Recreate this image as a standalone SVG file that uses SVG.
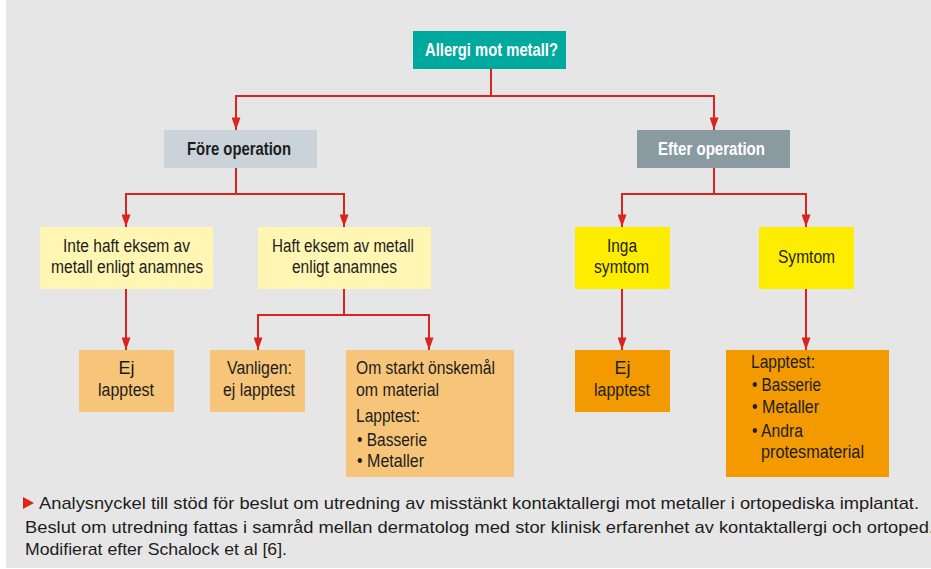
<svg xmlns="http://www.w3.org/2000/svg" width="931" height="569" viewBox="0 0 931 569">
<style>
.t{font-family:"Liberation Sans",Arial,sans-serif;font-size:18px;fill:#1d1d1b}
.b{font-weight:bold}
.w{fill:#ffffff}
.c{font-family:"Liberation Sans",Arial,sans-serif;font-size:17px;fill:#1d1d1b}
.con{fill:none;stroke:#d9251d;stroke-width:2;marker-end:url(#ah)}
</style>
<defs>
<marker id="ah" viewBox="0 0 14 10" refX="14" refY="5" markerWidth="14" markerHeight="9" markerUnits="userSpaceOnUse" orient="auto">
<path d="M0,0 L14,5 L0,10 z" fill="#d9251d"/>
</marker>
</defs>
<rect x="0" y="0" width="931" height="569" fill="#ffffff"/>
<rect x="6" y="0" width="925" height="568" fill="#e6e6e6"/>

<g id="connectors">
<path class="con" d="M491,69 V96 H236 V130"/>
<path class="con" d="M491,69 V96 H714 V130"/>
<path class="con" d="M236,168 V194 H126 V227"/>
<path class="con" d="M236,168 V194 H344 V227"/>
<path class="con" d="M714,168 V194 H622 V227"/>
<path class="con" d="M714,168 V194 H806 V227"/>
<path class="con" d="M126,289 V350"/>
<path class="con" d="M344,289 V315 H258 V350"/>
<path class="con" d="M344,289 V315 H429 V350"/>
<path class="con" d="M622,289 V350"/>
<path class="con" d="M806,289 V350"/>
</g>

<g id="allergi">
<rect x="413" y="31" width="153" height="38" fill="#00a99d"/>
<text class="t b w" x="425" y="56" textLength="133" lengthAdjust="spacingAndGlyphs">Allergi mot metall?</text>
</g>
<g id="fore">
<rect x="164" y="130" width="153" height="38" fill="#cbd3da"/>
<text class="t b" x="187" y="155" textLength="104" lengthAdjust="spacingAndGlyphs">Före operation</text>
</g>
<g id="efter">
<rect x="637" y="130" width="153" height="38" fill="#8a9aa1"/>
<text class="t b w" x="658" y="155" textLength="107" lengthAdjust="spacingAndGlyphs">Efter operation</text>
</g>

<g id="inte-haft">
<rect x="40" y="227" width="173" height="62" fill="#fff6b4"/>
<text class="t" x="63" y="252" textLength="127" lengthAdjust="spacingAndGlyphs">Inte haft eksem av</text>
<text class="t" x="51" y="273" textLength="152" lengthAdjust="spacingAndGlyphs">metall enligt anamnes</text>
</g>
<g id="haft">
<rect x="258" y="227" width="173" height="62" fill="#fff6b4"/>
<text class="t" x="272" y="252" textLength="142" lengthAdjust="spacingAndGlyphs">Haft eksem av metall</text>
<text class="t" x="292" y="273" textLength="105" lengthAdjust="spacingAndGlyphs">enligt anamnes</text>
</g>
<g id="inga-symtom">
<rect x="575" y="227" width="95" height="62" fill="#ffed00"/>
<text class="t" x="607" y="252" textLength="30" lengthAdjust="spacingAndGlyphs">Inga</text>
<text class="t" x="594" y="273" textLength="55" lengthAdjust="spacingAndGlyphs">symtom</text>
</g>
<g id="symtom">
<rect x="759" y="227" width="95" height="62" fill="#ffed00"/>
<text class="t" x="778" y="263" textLength="57" lengthAdjust="spacingAndGlyphs">Symtom</text>
</g>

<g id="ej-lapptest-1">
<rect x="79" y="350" width="95" height="62" fill="#f7c57a"/>
<text class="t" x="126.5" y="374" text-anchor="middle">Ej</text>
<text class="t" x="98" y="396" textLength="56" lengthAdjust="spacingAndGlyphs">lapptest</text>
</g>
<g id="vanligen">
<rect x="210" y="350" width="95" height="62" fill="#f7c57a"/>
<text class="t" x="227" y="374" textLength="65" lengthAdjust="spacingAndGlyphs">Vanligen:</text>
<text class="t" x="223" y="396" textLength="72" lengthAdjust="spacingAndGlyphs">ej lapptest</text>
</g>
<g id="om-starkt">
<rect x="346" y="350" width="168" height="127" fill="#f7c57a"/>
<text class="t" x="356" y="374" textLength="139" lengthAdjust="spacingAndGlyphs">Om starkt önskemål</text>
<text class="t" x="356" y="396" textLength="83" lengthAdjust="spacingAndGlyphs">om material</text>
<text class="t" x="356" y="422" textLength="64" lengthAdjust="spacingAndGlyphs">Lapptest:</text>
<text class="t" x="357" y="446" textLength="70" lengthAdjust="spacingAndGlyphs">• Basserie</text>
<text class="t" x="357" y="467" textLength="67" lengthAdjust="spacingAndGlyphs">• Metaller</text>
</g>
<g id="ej-lapptest-2">
<rect x="575" y="350" width="95" height="62" fill="#f29a00"/>
<text class="t" x="622.5" y="374" text-anchor="middle">Ej</text>
<text class="t" x="594" y="396" textLength="56" lengthAdjust="spacingAndGlyphs">lapptest</text>
</g>
<g id="lapptest-efter">
<rect x="726" y="350" width="163" height="127" fill="#f29a00"/>
<text class="t" x="751" y="368" textLength="64" lengthAdjust="spacingAndGlyphs">Lapptest:</text>
<text class="t" x="752" y="391" textLength="69" lengthAdjust="spacingAndGlyphs">• Basserie</text>
<text class="t" x="752" y="413" textLength="67" lengthAdjust="spacingAndGlyphs">• Metaller</text>
<text class="t" x="752" y="437" textLength="51" lengthAdjust="spacingAndGlyphs">• Andra</text>
<text class="t" x="761" y="458" textLength="103" lengthAdjust="spacingAndGlyphs">protesmaterial</text>
</g>

<g id="caption">
<path d="M23,497 L34,503 L23,509 z" fill="#e2231a"/>
<text class="c" x="39" y="509" textLength="880" lengthAdjust="spacingAndGlyphs">Analysnyckel till stöd för beslut om utredning av misstänkt kontaktallergi mot metaller i ortopediska implantat.</text>
<text class="c" x="25" y="533" textLength="909" lengthAdjust="spacingAndGlyphs">Beslut om utredning fattas i samråd mellan dermatolog med stor klinisk erfarenhet av kontaktallergi och ortoped.</text>
<text class="c" x="25" y="555" textLength="262" lengthAdjust="spacingAndGlyphs">Modifierat efter Schalock et al [6].</text>
</g>
</svg>
